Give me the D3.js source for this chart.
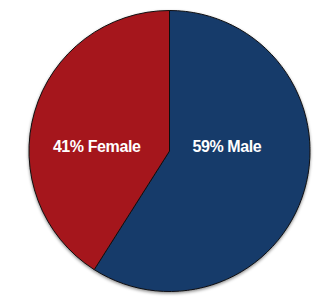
<!DOCTYPE html>
<meta charset="utf-8">
<style>
body { margin: 0; background: #fff; }
.slice { stroke: #111; stroke-width: 1px; }
.label { fill: #fff; font-family: "Liberation Sans", Arial, sans-serif; font-weight: bold; font-size: 16px; letter-spacing: -0.4px; }
</style>
<svg width="331" height="303"></svg>
<script src="https://d3js.org/d3.v7.min.js"></script>
<script>

var categories = ["Male", "Female"];
var values = [59, 41];
var colors = ["#163a6b", "#a5161f"];

var svg = d3.select("svg"),
    cx = 169.5,
    cy = 151,
    radius = 140.5;

var defs = svg.append("defs");
var shadow = defs.append("filter").attr("id", "shadow")
    .attr("x", "-10%").attr("y", "-10%").attr("width", "120%").attr("height", "120%");
shadow.append("feDropShadow")
    .attr("dx", 0).attr("dy", 1.5).attr("stdDeviation", 1.5)
    .attr("flood-color", "#000").attr("flood-opacity", 0.45);

var pie = d3.pie().sort(null).value(function(d) { return d; });
var arc = d3.arc().innerRadius(0).outerRadius(radius);

var data = pie(values);

var g = svg.append("g").attr("transform", "translate(" + cx + "," + cy + ")");

g.append("g").attr("filter", "url(#shadow)")
  .selectAll("path")
  .data(data)
  .enter().append("path")
    .attr("class", "slice")
    .attr("d", arc)
    .style("fill", function(d, i) { return colors[i]; });

// labels sit on a horizontal line through the centre
g.selectAll(".label")
  .data(data)
  .enter().append("text")
    .attr("class", "label")
    .attr("x", function(d, i) { return i === 0 ? 23 : -29; })
    .attr("y", 1)
    .attr("text-anchor", function(d, i) { return i === 0 ? "start" : "end"; })
    .text(function(d, i) { return values[i] + "% " + categories[i]; });

</script>
